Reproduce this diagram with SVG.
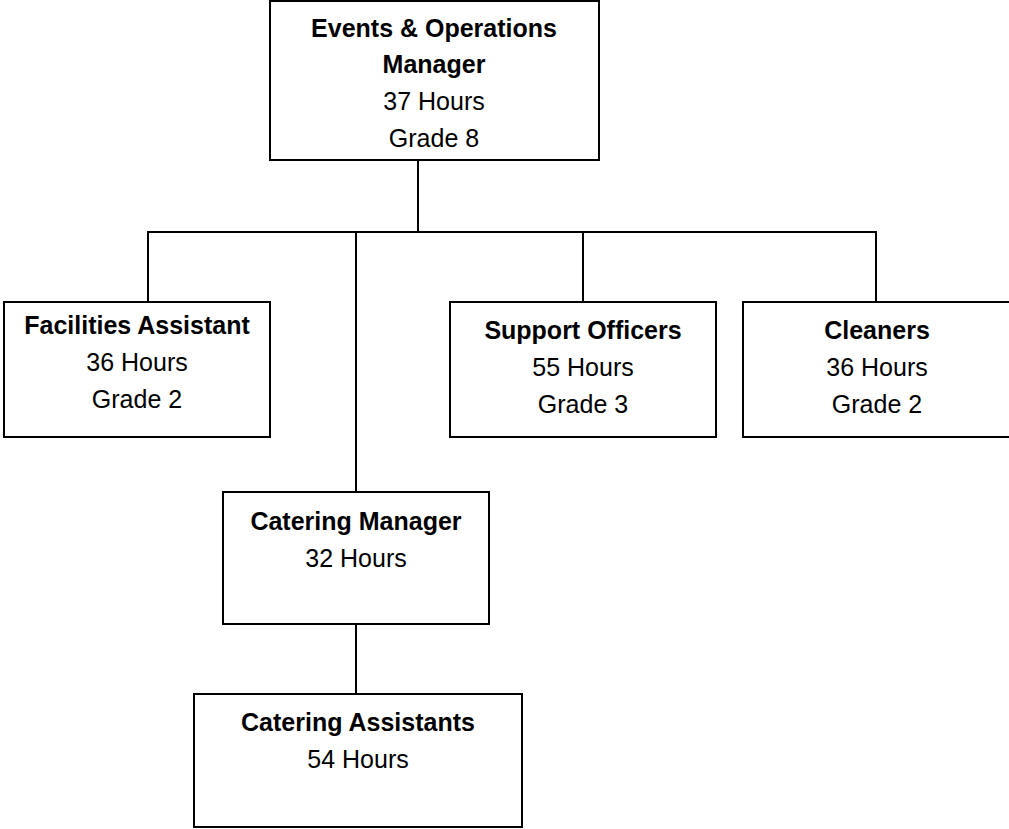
<svg xmlns="http://www.w3.org/2000/svg" width="1009" height="829" viewBox="0 0 1009 829">
<style>
.box{fill:#fff;stroke:#000;stroke-width:2}
.ln{fill:none;stroke:#000;stroke-width:2}
text{font-family:"Liberation Sans",Arial,sans-serif;font-size:25px;fill:#000;text-anchor:middle}
.b{font-weight:bold}
</style>
<rect width="1009" height="829" fill="#fff"/>
<g id="connectors">
<line class="ln" x1="418" y1="160" x2="418" y2="232"/>
<line class="ln" x1="147" y1="232" x2="877" y2="232"/>
<line class="ln" x1="148" y1="232" x2="148" y2="302"/>
<line class="ln" x1="356" y1="232" x2="356" y2="492"/>
<line class="ln" x1="583" y1="232" x2="583" y2="302"/>
<line class="ln" x1="876" y1="232" x2="876" y2="302"/>
<line class="ln" x1="356" y1="624" x2="356" y2="694"/>
</g>
<g id="manager">
<rect class="box" x="270" y="1" width="329" height="159"/>
<text class="b" x="434" y="37">Events &amp; Operations</text>
<text class="b" x="434" y="73">Manager</text>
<text x="434" y="110">37 Hours</text>
<text x="434" y="147">Grade 8</text>
</g>
<g id="facilities">
<rect class="box" x="4" y="302" width="266" height="135"/>
<text class="b" x="137" y="334">Facilities Assistant</text>
<text x="137" y="371">36 Hours</text>
<text x="137" y="408">Grade 2</text>
</g>
<g id="support">
<rect class="box" x="450" y="302" width="266" height="135"/>
<text class="b" x="583" y="339">Support Officers</text>
<text x="583" y="376">55 Hours</text>
<text x="583" y="413">Grade 3</text>
</g>
<g id="cleaners">
<rect class="box" x="743" y="302" width="280" height="135"/>
<text class="b" x="877" y="339">Cleaners</text>
<text x="877" y="376">36 Hours</text>
<text x="877" y="413">Grade 2</text>
</g>
<g id="catering-manager">
<rect class="box" x="223" y="492" width="266" height="132"/>
<text class="b" x="356" y="530">Catering Manager</text>
<text x="356" y="567">32 Hours</text>
</g>
<g id="catering-assistants">
<rect class="box" x="194" y="694" width="328" height="133"/>
<text class="b" x="358" y="731">Catering Assistants</text>
<text x="358" y="768">54 Hours</text>
</g>
</svg>
